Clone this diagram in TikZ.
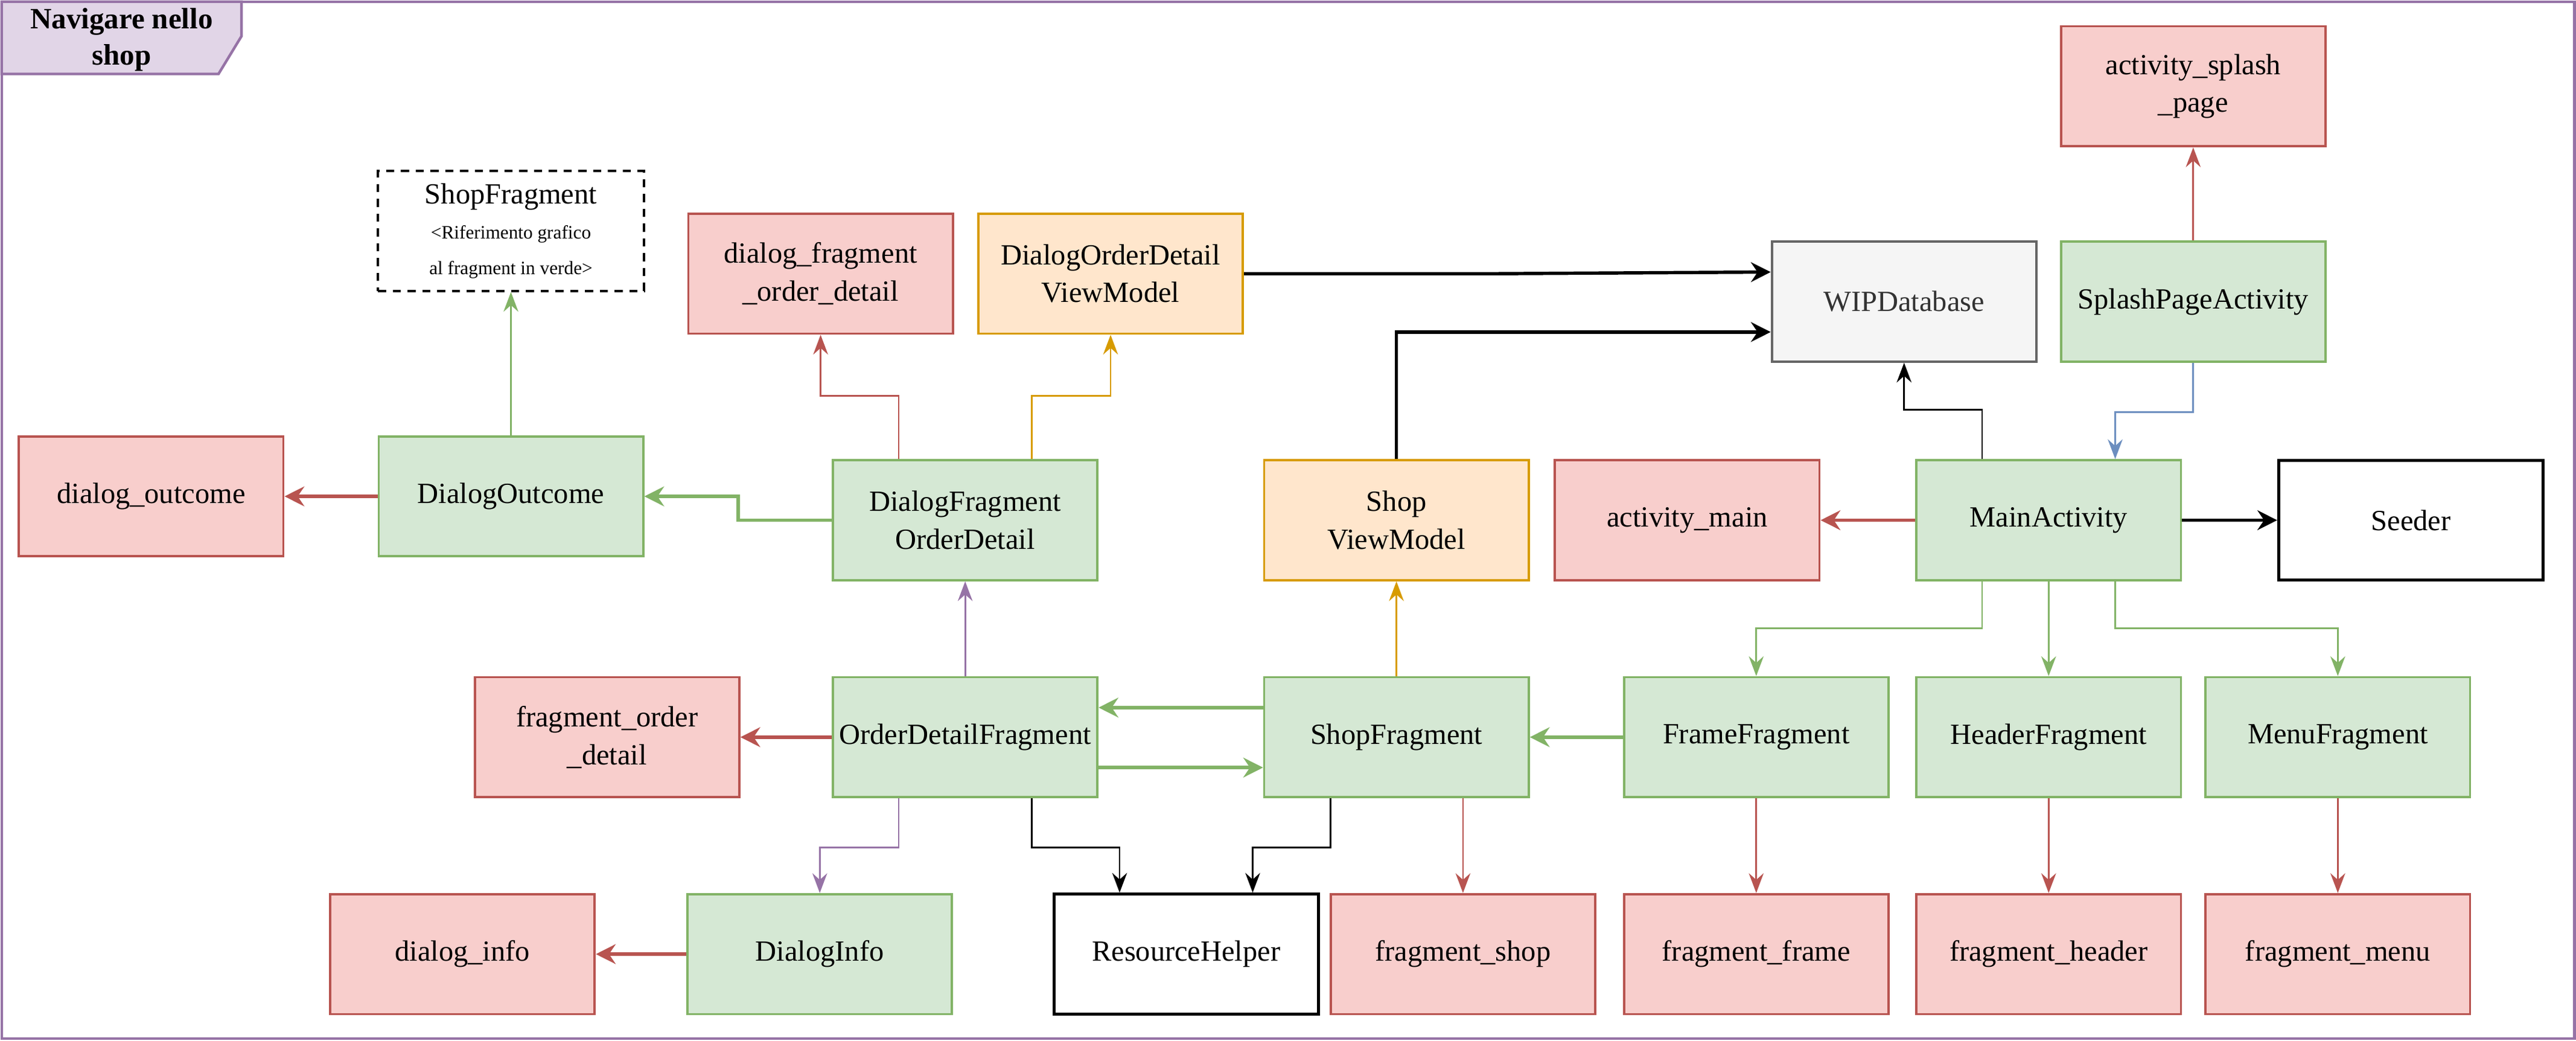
\documentclass[tikz,border=0pt]{standalone}
\usepackage{fontspec}
\setmainfont{Liberation Serif}
\usetikzlibrary{arrows.meta,calc}
\definecolor{gfill}{HTML}{D5E8D4}\definecolor{gdraw}{HTML}{82B366}
\definecolor{rfill}{HTML}{F8CECC}\definecolor{rdraw}{HTML}{B85450}
\definecolor{ofill}{HTML}{FFE6CC}\definecolor{odraw}{HTML}{D79B00}
\definecolor{yfill}{HTML}{F5F5F5}\definecolor{ydraw}{HTML}{666666}\definecolor{ytext}{HTML}{333333}
\definecolor{bdraw}{HTML}{6C8EBF}
\definecolor{pfill}{HTML}{E1D5E7}\definecolor{pdraw}{HTML}{9673A6}
\tikzset{
  box/.style={rectangle, minimum width=161pt, minimum height=73pt, inner sep=0pt, align=center,
    line width=1.4pt, font=\fontsize{17.8}{23}\selectfont},
  gbox/.style={box, fill=gfill, draw=gdraw},
  rbox/.style={box, fill=rfill, draw=rdraw},
  obox/.style={box, fill=ofill, draw=odraw},
  ybox/.style={box, fill=yfill, draw=ydraw, text=ytext},
  kbox/.style={box, fill=white, draw=black, line width=1.8pt},
  dashbox/.style={box, minimum width=162pt, fill=white, draw=black, line width=1.3pt, dash pattern=on 5pt off 4pt,
    font=\fontsize{11.5}{21.5}\selectfont},
  thinA/.style={line width=1pt, -{Stealth[length=12pt,width=9pt,inset=4pt]}},
  thickA/.style={line width=2pt, -{Stealth[length=12pt,width=12pt,inset=4pt]}},
  gline/.style={draw=gdraw}, rline/.style={draw=rdraw}, oline/.style={draw=odraw},
  kline/.style={draw=black}, bline/.style={draw=bdraw}, pline/.style={draw=pdraw},
}
\begin{document}
\begin{tikzpicture}[x=1pt,y=-1pt]
\useasboundingbox (0,0) rectangle (1568,633);
% frame
\draw[draw=pdraw, line width=1.6pt] (1,1) rectangle (1567,632);
\draw[draw=pdraw, fill=pfill, line width=1.6pt] (1,1) -- (147,1) -- (147,22) -- (133,45) -- (1,45) -- cycle;
\node[align=center, font=\bfseries\fontsize{18}{22}\selectfont] (title) at (74,24) {Navigare nello\\shop};
% nodes
\node[dashbox] (ref) at (311,140.5) {{\fontsize{17.8}{21.5}\selectfont ShopFragment}\\<Riferimento grafico\\al fragment in verde>};
\node[rbox] (doutl) at (92,302) {dialog\_outcome};
\node[gbox] (dout) at (311,302) {DialogOutcome};
\node[rbox] (dfodl) at (499.5,166.5) {dialog\_fragment\\\_order\_detail};
\node[obox] (dodvm) at (676,166.5) {DialogOrderDetail\\ViewModel};
\node[gbox] (dfo) at (587.5,316.5) {DialogFragment\\OrderDetail};
\node[ybox] (wip) at (1159,183.5) {WIPDatabase};
\node[rbox] (asp) at (1335,52.5) {activity\_splash\\\_page};
\node[gbox] (spa) at (1335,183.5) {SplashPageActivity};
\node[obox] (svm) at (850,316.5) {Shop\\ViewModel};
\node[rbox] (am) at (1027,316.5) {activity\_main};
\node[gbox] (ma) at (1247,316.5) {MainActivity};
\node[kbox] (seeder) at (1467.5,316.5) {Seeder};
\node[rbox] (fod) at (369.5,448.5) {fragment\_order\\\_detail};
\node[gbox] (odf) at (587.5,448.5) {OrderDetailFragment};
\node[gbox] (sf) at (850,448.5) {ShopFragment};
\node[gbox] (ff) at (1069,448.5) {FrameFragment};
\node[gbox] (hf) at (1247,448.5) {HeaderFragment};
\node[gbox] (mf) at (1423,448.5) {MenuFragment};
\node[rbox] (dil) at (281.5,580.5) {dialog\_info};
\node[gbox] (dinfo) at (499,580.5) {DialogInfo};
\node[kbox] (rh) at (722,580.5) {ResourceHelper};
\node[rbox] (fs) at (890.5,580.5) {fragment\_shop};
\node[rbox] (ffl) at (1069,580.5) {fragment\_frame};
\node[rbox] (fhl) at (1247,580.5) {fragment\_header};
\node[rbox] (fml) at (1423,580.5) {fragment\_menu};
% edges
\draw[thinA,gline] (dout.north) -- (ref.south);
\draw[thickA,rline] (dout.west) -- (doutl.east);
\draw[thickA,gline] (dfo.west) -- ++(-57,0) |- (dout.east);
\draw[thinA,rline] ([xshift=-40.5pt]dfo.north) -- ++(0,-38.5) -| (dfodl.south);
\draw[thinA,oline] ([xshift=40.5pt]dfo.north) -- ++(0,-38.5) -| (dodvm.south);
\draw[thickA,kline] (dodvm.east) -- ++(155,0) -- ([yshift=18pt]wip.west);
\draw[thickA,kline] (svm.north) |- ([yshift=-18.5pt]wip.west);
\draw[thinA,kline] ([xshift=-40.5pt]ma.north) -- ++(0,-30) -| (wip.south);
\draw[thinA,rline] (spa.north) -- (asp.south);
\draw[thinA,bline] (spa.south) -- ++(0,30) -| ([xshift=40.5pt]ma.north);
\draw[thickA,rline] (ma.west) -- (am.east);
\draw[thickA,kline] (ma.east) -- (seeder.west);
\draw[thinA,gline] ([xshift=-40.5pt]ma.south) -- ++(0,28.5) -| (ff.north);
\draw[thinA,gline] (ma.south) -- (hf.north);
\draw[thinA,gline] ([xshift=40.5pt]ma.south) -- ++(0,28.5) -| (mf.north);
\draw[thickA,gline] (ff.west) -- (sf.east);
\draw[thinA,oline] (sf.north) -- (svm.south);
\draw[thickA,gline] ([yshift=18pt]sf.west) -- ([yshift=18pt]odf.east);
\draw[thickA,gline] ([yshift=-18.5pt]odf.east) -- ([yshift=-18.5pt]sf.west);
\draw[thickA,rline] (odf.west) -- (fod.east);
\draw[thinA,pline] (odf.north) -- (dfo.south);
\draw[thinA,pline] ([xshift=-40.5pt]odf.south) -- ++(0,30) -| (dinfo.north);
\draw[thinA,kline] ([xshift=40.5pt]odf.south) -- ++(0,30) -| ([xshift=-40.5pt]rh.north);
\draw[thinA,kline] ([xshift=-40pt]sf.south) -- ++(0,30) -| ([xshift=40.5pt]rh.north);
\draw[thinA,rline] ([xshift=40.5pt]sf.south) -- (fs.north);
\draw[thinA,rline] (ff.south) -- (ffl.north);
\draw[thinA,rline] (hf.south) -- (fhl.north);
\draw[thinA,rline] (mf.south) -- (fml.north);
\draw[thickA,rline] (dinfo.west) -- (dil.east);
\end{tikzpicture}
\end{document}
